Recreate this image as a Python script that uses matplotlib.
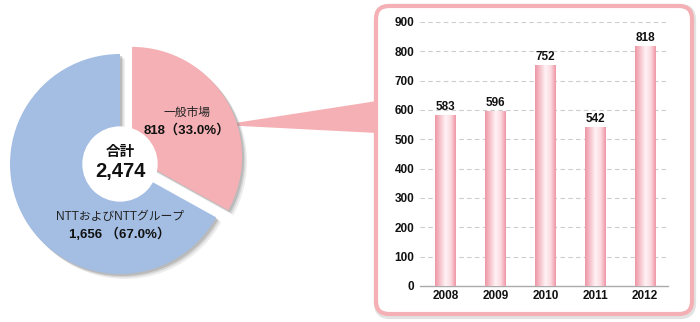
import numpy as np
import matplotlib
matplotlib.use("Agg")
import matplotlib.pyplot as plt
from matplotlib.patches import FancyBboxPatch, Polygon
from matplotlib.colors import LinearSegmentedColormap

# ---- data ----
pie_labels = ["一般市場", "NTTおよびNTTグループ"]
pie_values = [818, 1656]
pie_pct = ["33.0%", "67.0%"]
total_label = "合計"
total_value = "2,474"
years = ["2008", "2009", "2010", "2011", "2012"]
sales = [583, 596, 752, 542, 818]
yticks = [0, 100, 200, 300, 400, 500, 600, 700, 800, 900]

PINK = "#f4b0b4"
BLUE = "#a3bde3"
NARROW = ["Liberation Sans Narrow", "Liberation Sans", "Noto Sans CJK JP", "DejaVu Sans"]

W, H = 700, 322
fig = plt.figure(figsize=(W / 100, H / 100), dpi=100)
fig.patch.set_facecolor("white")


def fx(x):
    return x / W


def fy(y):
    return 1 - y / H


# background axes in pixel coords
bg = fig.add_axes([0, 0, 1, 1], zorder=0)
bg.set_xlim(0, W)
bg.set_ylim(H, 0)
bg.axis("off")

# box shadow + box
bg.add_patch(FancyBboxPatch((377, 7), 316, 309, boxstyle="round,pad=0,rounding_size=13",
                            facecolor="none", edgecolor="#e2e2e2", lw=4.5))
bg.add_patch(FancyBboxPatch((376, 6), 316, 308, boxstyle="round,pad=0,rounding_size=13",
                            facecolor="white", edgecolor=PINK, lw=3))
# connector
bg.add_patch(Polygon([(222, 125), (377, 101), (377, 133)], closed=True,
                     facecolor=PINK, edgecolor="none"))

# pie axes
cx, cy, R = 120, 164, 110
half = 130
pax = fig.add_axes([fx(cx - half), fy(cy + half), 2 * half / W, 2 * half / H], zorder=1)
L = half / R
explode = [14 / R, 0]
# soft shadow (a few layers)
for off, a in [(0.045, 0.15), (0.03, 0.25), (0.018, 0.35)]:
    pax.pie(pie_values, startangle=90, counterclock=False, explode=explode,
            colors=["#8a8a8a", "#8a8a8a"], center=(off, -off),
            wedgeprops=dict(linewidth=0, alpha=a))
pax.pie(pie_values, startangle=90, counterclock=False, explode=explode,
        colors=[PINK, BLUE], wedgeprops=dict(linewidth=0))
circ = plt.Circle((0, 0), 37 / R, color="white", zorder=5)
pax.add_patch(circ)
pax.set_xlim(-L, L)
pax.set_ylim(-L, L)
pax.set_aspect("equal")
pax.axis("off")

# pie texts
fig.text(fx(187), fy(112), pie_labels[0], ha="center", va="center", fontsize=8.5,
         family=["Noto Sans CJK JP", "DejaVu Sans"], color="#222222")
fig.text(fx(187), fy(130), f"{pie_values[0]:,}（{pie_pct[0]}）", ha="center", va="center",
         fontsize=9.5, fontweight="bold", family=NARROW, color="#111111")
fig.text(fx(120), fy(151), total_label, ha="center", va="center", fontsize=10.5,
         fontweight="bold", family=["Noto Sans CJK JP", "DejaVu Sans"], color="#111111")
fig.text(fx(120), fy(172), total_value, ha="center", va="center", fontsize=14.5,
         fontweight="bold", family=NARROW, color="#111111")
fig.text(fx(120), fy(217), pie_labels[1], ha="center", va="center", fontsize=8.5,
         family=NARROW, color="#222222")
fig.text(fx(120), fy(234), f"{pie_values[1]:,} （{pie_pct[1]}）", ha="center", va="center",
         fontsize=9.5, fontweight="bold", family=NARROW, color="#111111")

# bar axes
x0, x1, y0, y1 = 420, 668, 286, 22
bax = fig.add_axes([fx(x0), fy(y0), (x1 - x0) / W, (y0 - y1) / H], zorder=2)
bax.patch.set_alpha(0)
xs = np.arange(len(years))
bars = bax.bar(xs, sales, width=0.42, color="none", edgecolor="none", zorder=3)
cmap = LinearSegmentedColormap.from_list(
    "pk", ["#ee94a4", "#f6c3cc", "#fff3f5", "#fbdbe1", "#ee94a4"])
grad = np.linspace(0, 1, 256).reshape(1, -1)
for b, v in zip(bars, sales):
    bx, bw, bh = b.get_x(), b.get_width(), b.get_height()
    im = bax.imshow(grad, cmap=cmap, aspect="auto", extent=[bx, bx + bw, 0, bh],
                    zorder=3, interpolation="bicubic")
    b.set_facecolor("white")
    im.set_clip_path(b)
    bax.text(bx + bw / 2, bh + 8, str(v), ha="center", va="bottom", fontsize=8.5,
             fontweight="bold", family=NARROW, color="#111111", zorder=4)

bax.set_xlim(-0.52, 4.46)
bax.set_ylim(0, 900)
bax.set_yticks(yticks)
bax.set_yticklabels([str(t) for t in yticks])
bax.set_xticks(xs)
bax.set_xticklabels(years)
for lab in bax.get_xticklabels() + bax.get_yticklabels():
    lab.set_fontweight("bold")
    lab.set_family(NARROW)
    lab.set_fontsize(8.5)
    lab.set_color("#111111")
bax.tick_params(axis="both", length=0, pad=4)
bax.tick_params(axis="x", pad=3)
for t in yticks[1:]:
    bax.axhline(t, color="#cccccc", lw=0.8, ls=(0, (4, 3)), zorder=1)
for s in ["left", "right", "top"]:
    bax.spines[s].set_visible(False)
bax.spines["bottom"].set_color("#aaaaaa")
bax.spines["bottom"].set_linewidth(1)

fig.savefig("out.png", dpi=100, facecolor="white")
